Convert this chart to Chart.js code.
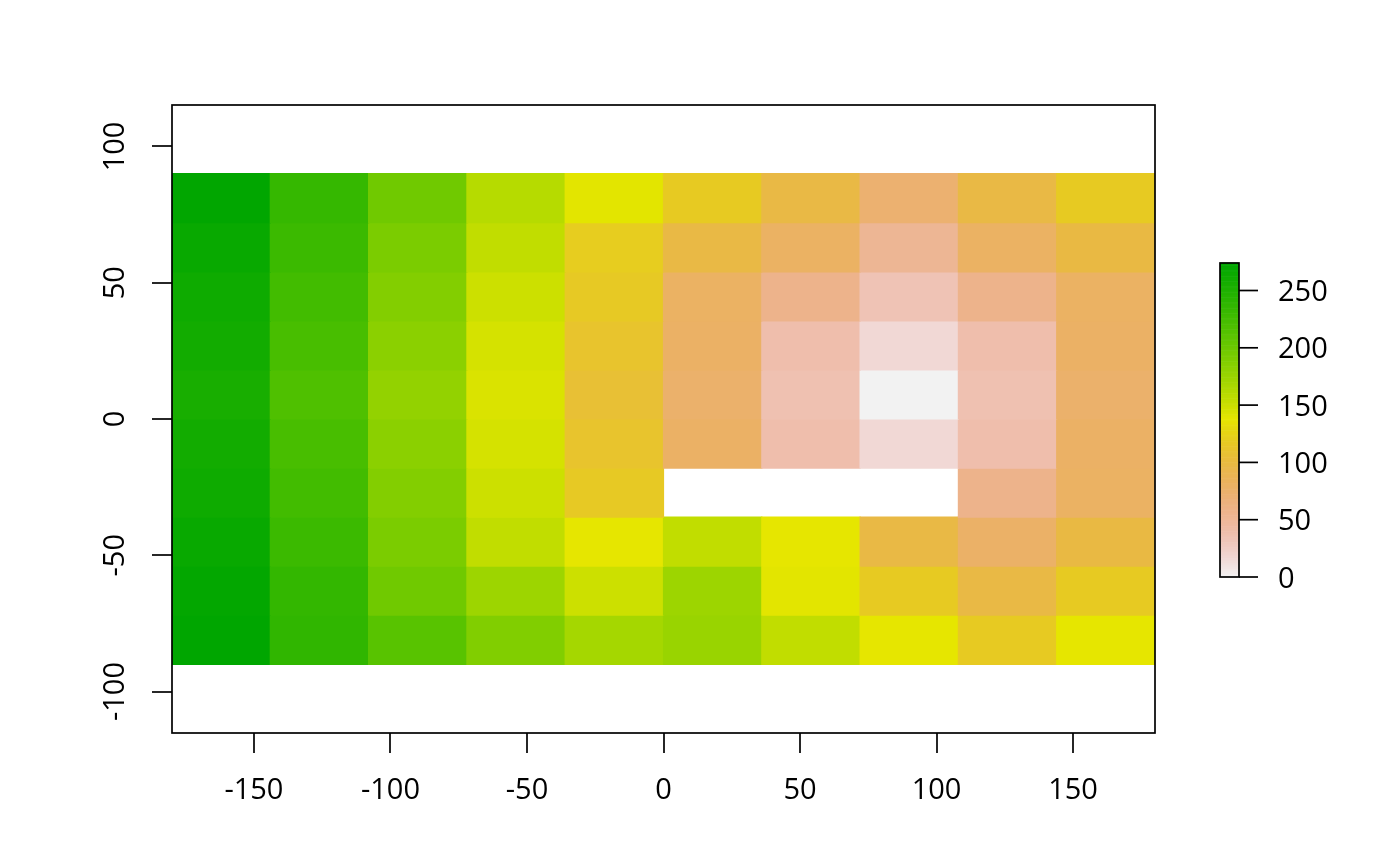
<!DOCTYPE html>
<html>
<head>
<meta charset="utf-8">
<script src="https://cdn.jsdelivr.net/npm/chart.js@4.4.1/dist/chart.umd.min.js"></script>
<style>
html,body{margin:0;padding:0;background:#fff;}
#wrap{width:1400px;height:866px;}
</style>
</head>
<body>
<div id="wrap"><canvas id="c" width="1400" height="866"></canvas></div>
<script>
// ---- data ----
const lonLabels = ['-162','-126','-90','-54','-18','18','54','90','126','162'];
const latTop    = [90, 72, 54, 36, 18, 0, -18, -36, -54, -72];
const latBottom = [72, 54, 36, 18, 0, -18, -36, -54, -72, -90];
const row1  = [272, 235, 198, 161, 139, 118,  97,  72,  97, 118];
const row2  = [267, 230, 192, 155, 120,  97,  80,  52,  80,  98];
const row3  = [263, 226, 187, 150, 117,  80,  57,  34,  57,  80];
const row4  = [260, 222, 183, 146, 111,  79,  39,  17,  39,  79];
const row5  = [255, 218, 179, 143, 107,  76,  36,   0,  36,  76];
const row6  = [260, 222, 183, 146, 111,  79,  39,  17,  39,  79];
const row7  = [263, 226, 187, 150, 117, null, null, null, 57, 80];
const row8  = [267, 230, 192, 155, 138, 155, 138,  97,  78,  98];
const row9  = [271, 236, 198, 173, 150, 173, 139, 118,  97, 118];
const row10 = [274, 238, 212, 189, 169, 176, 155, 138, 118, 138];
const rows = [row1,row2,row3,row4,row5,row6,row7,row8,row9,row10];
const xTickValues = [-150, -100, -50, 0, 50, 100, 150];
const xTickLabels = ['-150','-100','-50','0','50','100','150'];
const yTickValues = [-100, -50, 0, 50, 100];
const yTickLabels = ['-100','-50','0','50','100'];
const legendTicks = [0, 50, 100, 150, 200, 250];
const legendLabels = ['0','50','100','150','200','250'];

// ---- palette: rev(terrain.colors(255)) ----
function hsv2hex(h, s, v) {
  const i = Math.floor(h * 6) % 6, f = h * 6 - Math.floor(h * 6);
  const p = v * (1 - s), q = v * (1 - f * s), t = v * (1 - (1 - f) * s);
  let r, g, b;
  switch (i) {
    case 0: r=v; g=t; b=p; break;
    case 1: r=q; g=v; b=p; break;
    case 2: r=p; g=v; b=t; break;
    case 3: r=p; g=q; b=v; break;
    case 4: r=t; g=p; b=v; break;
    default: r=v; g=p; b=q;
  }
  const hx = x => Math.round(x * 255).toString(16).padStart(2, '0');
  return '#' + hx(r) + hx(g) + hx(b);
}
function terrainColors(n) {
  const k = Math.floor(n / 2), m = n - k, cols = [];
  for (let i = 0; i < k; i++) {
    const t = k > 1 ? i / (k - 1) : 0;
    cols.push(hsv2hex(4/12 + (2/12 - 4/12) * t, 1, 0.65 + 0.25 * t));
  }
  for (let j = 1; j <= m; j++) {
    const t = j / m;
    cols.push(hsv2hex((2/12) * (1 - t), 1 - t, 0.9 + 0.05 * t));
  }
  return cols;
}
const palette = terrainColors(255).reverse();
const allVals = rows.flat().filter(v => v !== null);
const zmin = Math.min(...allVals), zmax = Math.max(...allVals);
function colorFor(v) {
  if (v === null) return 'rgba(0,0,0,0)';
  let idx = Math.floor((v - zmin) / (zmax - zmin) * palette.length);
  idx = Math.max(0, Math.min(palette.length - 1, idx));
  return palette[idx];
}

const FONT = {family: "'Open Sans', 'Noto Sans', sans-serif", size: 29};

const datasets = rows.map((r, i) => ({
  data: r.map(v => v === null ? null : [latBottom[i], latTop[i]]),
  backgroundColor: r.map(colorFor),
  borderWidth: 0,
  borderSkipped: false,
  inflateAmount: 0.6,
  grouped: false,
  categoryPercentage: 1,
  barPercentage: 1,
  xAxisID: 'xc',
  yAxisID: 'y'
}));

const framePlugin = {
  id: 'frame',
  afterDraw(chart) {
    const ctx = chart.ctx, a = chart.chartArea;
    ctx.save();
    // box
    ctx.strokeStyle = '#000';
    ctx.lineWidth = 1.7;
    ctx.strokeRect(a.left, a.top, a.right - a.left, a.bottom - a.top);
    // rotated y tick labels
    const ys = chart.scales.y;
    ctx.fillStyle = '#000';
    ctx.font = FONT.size + 'px ' + FONT.family;
    ctx.textAlign = 'center';
    ctx.textBaseline = 'alphabetic';
    yTickValues.forEach((v, i) => {
      const py = ys.getPixelForValue(v);
      ctx.save();
      ctx.translate(a.left - 48, py);
      ctx.rotate(-Math.PI / 2);
      ctx.fillText(yTickLabels[i], 0, 0);
      ctx.restore();
    });
    // colour legend
    const lx = a.right + 65, lw = 19, lTop = 263, lBot = 577;
    const n = palette.length, h = (lBot - lTop) / n;
    for (let i = 0; i < n; i++) {
      ctx.fillStyle = palette[i];
      const y0 = lBot - (i + 1) * h;
      ctx.fillRect(lx, y0 - 0.3, lw, h + 0.6);
    }
    ctx.strokeStyle = '#000';
    ctx.lineWidth = 1.7;
    ctx.strokeRect(lx, lTop, lw, lBot - lTop);
    ctx.fillStyle = '#000';
    ctx.textAlign = 'left';
    legendTicks.forEach((v, i) => {
      const py = lBot - (v - zmin) / (zmax - zmin) * (lBot - lTop);
      ctx.beginPath();
      ctx.moveTo(lx + lw, py);
      ctx.lineTo(lx + lw + 19, py);
      ctx.stroke();
      ctx.fillText(legendLabels[i], lx + lw + 39, py + 10.5);
    });
    ctx.restore();
  }
};

new Chart(document.getElementById('c'), {
  type: 'bar',
  data: {labels: lonLabels, datasets: datasets},
  options: {
    responsive: false,
    animation: false,
    devicePixelRatio: 1,
    layout: {padding: {left: 0, right: 245, top: 105, bottom: 0}},
    plugins: {legend: {display: false}, tooltip: {enabled: false}},
    scales: {
      xc: {
        type: 'category', axis: 'x', labels: lonLabels, offset: true, display: false
      },
      x: {
        type: 'linear', axis: 'x', position: 'bottom', min: -180, max: 180, offset: false,
        afterBuildTicks: s => { s.ticks = xTickValues.map(v => ({value: v})); },
        afterFit: s => { s.height = 133; },
        border: {display: false},
        grid: {display: true, offset: false, drawOnChartArea: false, drawTicks: true, tickLength: 20,
               color: '#000', lineWidth: 0, tickColor: '#000', tickWidth: 1.7},
        ticks: {
          padding: 20, color: '#000', font: FONT, maxRotation: 0, autoSkip: false,
          callback: v => { const i = xTickValues.indexOf(v); return i >= 0 ? xTickLabels[i] : ''; }
        }
      },
      y: {
        type: 'linear', position: 'left', min: -115.2, max: 115.2,
        afterBuildTicks: s => { s.ticks = yTickValues.map(v => ({value: v})); },
        afterFit: s => { s.width = 172; },
        border: {display: false},
        grid: {display: true, drawOnChartArea: false, drawTicks: true, tickLength: 20,
               color: '#000', lineWidth: 0, tickColor: '#000', tickWidth: 1.7},
        ticks: {display: false}
      }
    }
  },
  plugins: [framePlugin]
});
</script>
</body>
</html>
